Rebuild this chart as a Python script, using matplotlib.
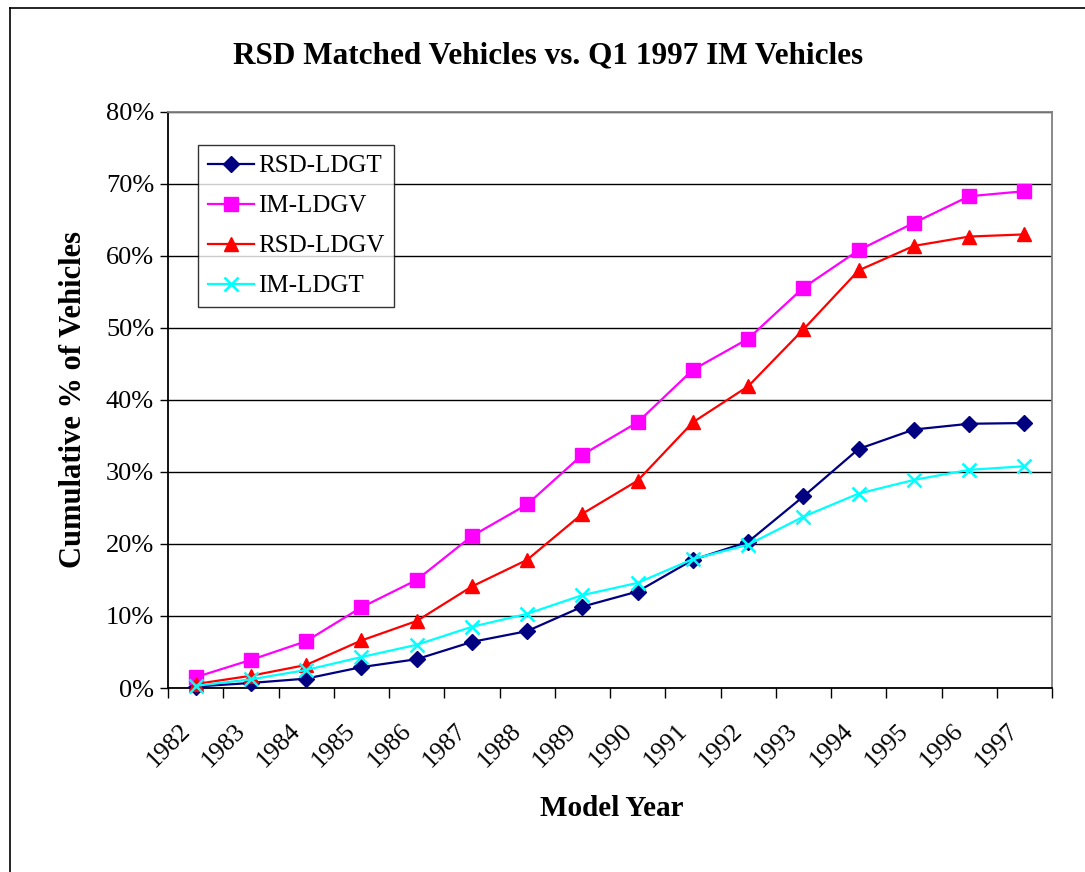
import matplotlib
matplotlib.use("Agg")
import matplotlib.pyplot as plt
from matplotlib.lines import Line2D
from matplotlib.ticker import FixedLocator, PercentFormatter
from matplotlib.transforms import ScaledTranslation

years = ["1982", "1983", "1984", "1985", "1986", "1987", "1988", "1989",
         "1990", "1991", "1992", "1993", "1994", "1995", "1996", "1997"]

rsd_ldgt = [0.2, 0.7, 1.3, 2.9, 4.0, 6.4, 7.9, 11.3, 13.4, 17.8, 20.3, 26.6, 33.2, 35.9, 36.7, 36.8]
im_ldgv = [1.5, 3.9, 6.5, 11.2, 15.0, 21.1, 25.5, 32.4, 36.9, 44.2, 48.5, 55.6, 60.8, 64.6, 68.3, 69.0]
rsd_ldgv = [0.55, 1.7, 3.2, 6.6, 9.3, 14.1, 17.8, 24.2, 28.8, 36.9, 41.9, 49.8, 58.0, 61.4, 62.7, 63.0]
im_ldgt = [0.3, 1.2, 2.5, 4.3, 6.0, 8.5, 10.3, 12.9, 14.6, 17.9, 19.9, 23.8, 27.0, 28.9, 30.3, 30.8]

series = [
    ("RSD-LDGT", rsd_ldgt, "#000080", "D", 8.5, 1.0),
    ("IM-LDGV", im_ldgv, "#FF00FF", "s", 9.5, 1.0),
    ("RSD-LDGV", rsd_ldgv, "#FF0000", "^", 10.5, 1.0),
    ("IM-LDGT", im_ldgt, "#00FFFF", "x", 10, 1.8),
]

plt.rcParams['font.family'] = ['Liberation Serif', 'DejaVu Serif']

W, H = 1085, 872
fig = plt.figure(figsize=(W / 100, H / 100), dpi=100)
ax = fig.add_axes([168 / W, (H - 688) / H, (1052 - 168) / W, (688 - 112) / H])

x = list(range(len(years)))
for name, vals, col, mk, ms, mew in series:
    ax.plot(x, vals, color=col, lw=1.6, marker=mk, markersize=ms,
            markerfacecolor=col, markeredgecolor=col, markeredgewidth=mew,
            label=name, clip_on=False, zorder=3)

ax.set_xlim(-0.5, len(years) - 0.5)
ax.set_ylim(0, 80)
ax.yaxis.set_major_locator(FixedLocator(range(0, 81, 10)))
ax.yaxis.set_major_formatter(PercentFormatter(decimals=0))
ax.grid(axis='y', color='black', lw=1.0, zorder=1)
ax.set_axisbelow(True)

ax.set_xticks(x)
ax.set_xticklabels(years, rotation=45, ha='right', rotation_mode='anchor', fontsize=18.5)
ax.tick_params(axis='x', which='major', length=0, pad=14)
ax.set_xticks([i - 0.5 for i in range(len(years) + 1)], minor=True)
ax.tick_params(axis='x', which='minor', length=7, width=1, direction='out', color='black')
ax.tick_params(axis='y', labelsize=19, length=6, width=1, direction='out', pad=4)
shift = ScaledTranslation(-0.17, -0.12, fig.dpi_scale_trans)
for lab in ax.get_xticklabels():
    lab.set_transform(lab.get_transform() + shift)

for s in ['left', 'bottom']:
    ax.spines[s].set_color('black')
    ax.spines[s].set_linewidth(1.3)
for s in ['top', 'right']:
    ax.spines[s].set_color('#808080')
    ax.spines[s].set_linewidth(1.3)

fig.text(612 / W, 1 - 808 / H, "Model Year", ha='center', va='center',
         fontsize=21, fontweight='bold')
fig.text(74 / W, 1 - 400 / H, "Cumulative % of Vehicles", ha='center', va='center',
         rotation=90, fontsize=22, fontweight='bold')
fig.text(548 / W, 1 - 56 / H, "RSD Matched Vehicles vs. Q1 1997 IM Vehicles",
         ha='center', va='center', fontsize=22.5, fontweight='bold')

leg = ax.legend(loc='upper left', bbox_to_anchor=((198 - 168) / (1052 - 168), 1 - (145 - 112) / (688 - 112)),
                fontsize=18, frameon=True, fancybox=False, edgecolor='black',
                handlelength=1.85, handletextpad=0.15, borderpad=0.4, labelspacing=0.7,
                borderaxespad=0)
leg.get_frame().set_linewidth(1.0)

fig.add_artist(Line2D([10 / W, 10 / W], [0, 1 - 8 / H], color='black', lw=1.2, transform=fig.transFigure))
fig.add_artist(Line2D([10 / W, 1], [1 - 8 / H, 1 - 8 / H], color='black', lw=1.2, transform=fig.transFigure))

fig.savefig("out.png", dpi=100)
